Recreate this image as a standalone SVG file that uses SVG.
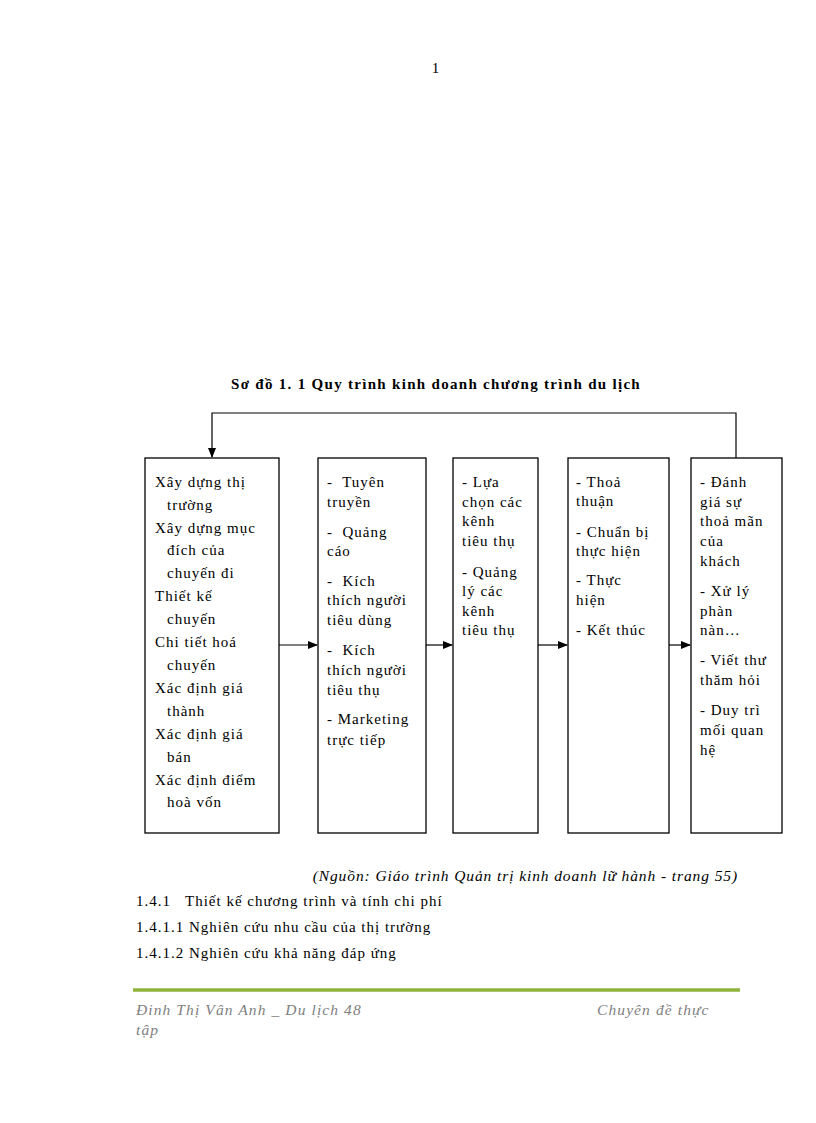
<svg xmlns="http://www.w3.org/2000/svg" width="816" height="1123" viewBox="0 0 816 1123">
<style>
  .t{font-family:"Liberation Serif","Times New Roman",serif;font-size:15px;letter-spacing:1px;fill:#000}
  .title{font-family:"Liberation Serif","Times New Roman",serif;font-size:15px;font-weight:bold;letter-spacing:1.3px;fill:#000}
  .box{fill:#fff;stroke:#000;stroke-width:1.3}
  .ln{fill:none;stroke:#000;stroke-width:1.2}
  .it{font-family:"Liberation Serif","Times New Roman",serif;font-size:15.5px;font-style:italic;letter-spacing:0.9px;fill:#000}
  .ft{font-family:"Liberation Serif","Times New Roman",serif;font-size:15.5px;font-style:italic;letter-spacing:1.1px;fill:#7f7f7f}
</style>
<defs>
  <marker id="ah" markerWidth="10" markerHeight="8" refX="9" refY="4" orient="auto" markerUnits="userSpaceOnUse">
    <path d="M0,0 L10,4 L0,8 Z" fill="#000"/>
  </marker>
</defs>
<rect width="816" height="1123" fill="#fff"/>
<text class="t" x="436" y="73" text-anchor="middle">1</text>
<text class="title" x="436" y="389" text-anchor="middle">Sơ đồ 1. 1 Quy trình kinh doanh chương trình du lịch</text>

<g id="connectors">
  <path class="ln" d="M736,458 V413 H212 V457" marker-end="url(#ah)"/>
  <line class="ln" x1="279" y1="645" x2="317" y2="645" marker-end="url(#ah)"/>
  <line class="ln" x1="426" y1="645" x2="452" y2="645" marker-end="url(#ah)"/>
  <line class="ln" x1="538" y1="645" x2="567" y2="645" marker-end="url(#ah)"/>
  <line class="ln" x1="669" y1="645" x2="690" y2="645" marker-end="url(#ah)"/>
</g>

<g id="node1">
  <rect class="box" x="145" y="458" width="134" height="375"/>
  <text class="t" x="155" y="487">Xây dựng thị</text>
  <text class="t" x="167" y="510">trường</text>
  <text class="t" x="155" y="533">Xây dựng mục</text>
  <text class="t" x="167" y="555">đích của</text>
  <text class="t" x="167" y="578">chuyến đi</text>
  <text class="t" x="155" y="601">Thiết kế</text>
  <text class="t" x="167" y="624">chuyến</text>
  <text class="t" x="155" y="647">Chi tiết hoá</text>
  <text class="t" x="167" y="670">chuyến</text>
  <text class="t" x="155" y="693">Xác định giá</text>
  <text class="t" x="167" y="716">thành</text>
  <text class="t" x="155" y="739">Xác định giá</text>
  <text class="t" x="167" y="762">bán</text>
  <text class="t" x="155" y="785">Xác định điểm</text>
  <text class="t" x="167" y="807">hoà vốn</text>
</g>

<g id="node2">
  <rect class="box" x="318" y="458" width="108" height="375"/>
  <text class="t" x="327" y="487" xml:space="preserve">-  Tuyên</text>
  <text class="t" x="327" y="507">truyền</text>
  <text class="t" x="327" y="537" xml:space="preserve">-  Quảng</text>
  <text class="t" x="327" y="556">cáo</text>
  <text class="t" x="327" y="586" xml:space="preserve">-  Kích</text>
  <text class="t" x="327" y="605">thích người</text>
  <text class="t" x="327" y="625">tiêu dùng</text>
  <text class="t" x="327" y="655" xml:space="preserve">-  Kích</text>
  <text class="t" x="327" y="675">thích người</text>
  <text class="t" x="327" y="695">tiêu thụ</text>
  <text class="t" x="327" y="724">- Marketing</text>
  <text class="t" x="327" y="745">trực tiếp</text>
</g>

<g id="node3">
  <rect class="box" x="453" y="458" width="85" height="375"/>
  <text class="t" x="462" y="487">- Lựa</text>
  <text class="t" x="462" y="507">chọn các</text>
  <text class="t" x="462" y="526">kênh</text>
  <text class="t" x="462" y="546">tiêu thụ</text>
  <text class="t" x="462" y="577">- Quảng</text>
  <text class="t" x="462" y="596">lý các</text>
  <text class="t" x="462" y="616">kênh</text>
  <text class="t" x="462" y="635">tiêu thụ</text>
</g>

<g id="node4">
  <rect class="box" x="568" y="458" width="101" height="375"/>
  <text class="t" x="576" y="487">- Thoả</text>
  <text class="t" x="576" y="506">thuận</text>
  <text class="t" x="576" y="537">- Chuẩn bị</text>
  <text class="t" x="576" y="556">thực hiện</text>
  <text class="t" x="576" y="585">- Thực</text>
  <text class="t" x="576" y="605">hiện</text>
  <text class="t" x="576" y="635">- Kết thúc</text>
</g>

<g id="node5">
  <rect class="box" x="691" y="458" width="91" height="375"/>
  <text class="t" x="700" y="487">- Đánh</text>
  <text class="t" x="700" y="507">giá sự</text>
  <text class="t" x="700" y="526">thoả mãn</text>
  <text class="t" x="700" y="546">của</text>
  <text class="t" x="700" y="566">khách</text>
  <text class="t" x="700" y="596">- Xử lý</text>
  <text class="t" x="700" y="616">phàn</text>
  <text class="t" x="700" y="635">nàn…</text>
  <text class="t" x="700" y="665">- Viết thư</text>
  <text class="t" x="700" y="685">thăm hỏi</text>
  <text class="t" x="700" y="715">- Duy trì</text>
  <text class="t" x="700" y="735">mối quan</text>
  <text class="t" x="700" y="755">hệ</text>
</g>

<text class="it" x="738" y="881" text-anchor="end">(Nguồn: Giáo trình Quản trị kinh doanh lữ hành - trang 55)</text>
<text class="t" x="136" y="906" xml:space="preserve">1.4.1   Thiết kế chương trình và tính chi phí</text>
<text class="t" x="136" y="932">1.4.1.1 Nghiên cứu nhu cầu của thị trường</text>
<text class="t" x="136" y="958">1.4.1.2 Nghiên cứu khả năng đáp ứng</text>

<line x1="133" y1="990" x2="740" y2="990" stroke="#8fb33c" stroke-width="3.5"/>
<text class="ft" x="136" y="1015">Đinh Thị Vân Anh _ Du lịch 48</text>
<text class="ft" x="597" y="1015">Chuyên đề thực</text>
<text class="ft" x="136" y="1035">tập</text>
</svg>
